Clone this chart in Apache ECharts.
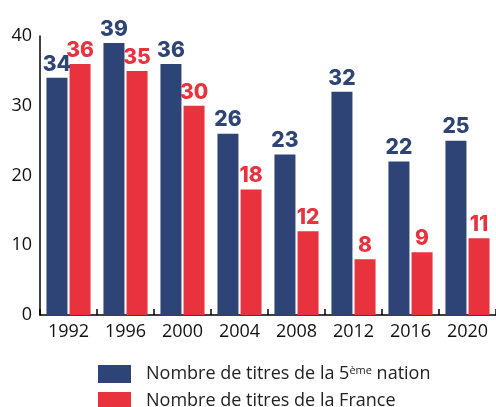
<!DOCTYPE html>
<html>
<head>
<meta charset="utf-8">
<script src="https://cdn.jsdelivr.net/npm/echarts@6/dist/echarts.min.js"></script>
<style>
  html, body { margin: 0; padding: 0; background: #fff; }
  #chart { width: 496px; height: 407px; }
</style>
</head>
<body>
<div id="chart"></div>
<script>
// data
const years = ['1992', '1996', '2000', '2004', '2008', '2012', '2016', '2020'];
const nation5 = [34, 39, 36, 26, 23, 32, 22, 25];
const france = [36, 35, 30, 18, 12, 8, 9, 11];
const yTicks = [0, 10, 20, 30, 40];
const seriesNames = ['Nombre de titres de la 5ème nation', 'Nombre de titres de la France'];

const blue = '#2f4476';
const red = '#e8333f';
const font = 'Open Sans';

const chart = echarts.init(document.getElementById('chart'));

const valueLabel = (color) => ({
  show: true,
  position: 'top',
  distance: 3,
  color: color,
  fontFamily: 'Inter',
  fontWeight: 800,
  fontSize: 21
});

// one legend per row, so the vertical list never wraps into a second column
const legendRow = (name, top) => ({
  data: [name],
  orient: 'horizontal',
  left: 98,
  top: top,
  padding: 0,
  itemWidth: 33,
  itemHeight: 18,
  icon: 'rect',
  textStyle: {
    fontFamily: font,
    fontSize: 18,
    color: '#222',
    padding: [0, 0, 0, 10],
    rich: {
      a: { fontFamily: font, fontSize: 18, color: '#222', lineHeight: 18 },
      sup: { fontFamily: font, fontSize: 11, color: '#222', lineHeight: 18, verticalAlign: 'top', padding: [0, 0, 6, 0] }
    }
  },
  formatter: function (n) {
    if (n.indexOf('5ème') >= 0) {
      return '{a|Nombre de titres de la 5}{sup|ème}{a| nation}';
    }
    return '{a|' + n + '}';
  }
});

chart.setOption({
  animation: false,
  grid: { left: 40, top: 36, width: 460, height: 279 },
  legend: [legendRow(seriesNames[0], 365), legendRow(seriesNames[1], 392)],
  xAxis: {
    type: 'category',
    data: years,
    axisLine: { lineStyle: { color: '#000', width: 1.5 } },
    axisTick: { show: true, inside: true, length: 6, lineStyle: { color: '#000', width: 1.5 } },
    axisLabel: { color: '#111', fontFamily: font, fontSize: 18, margin: 8 }
  },
  yAxis: {
    type: 'value',
    min: yTicks[0],
    max: yTicks[yTicks.length - 1],
    interval: 10,
    axisLine: { show: true, lineStyle: { color: '#000', width: 1.5 } },
    axisTick: { show: false },
    splitLine: { show: false },
    axisLabel: { color: '#111', fontFamily: font, fontSize: 18, margin: 8 }
  },
  series: [
    {
      name: seriesNames[0],
      type: 'bar',
      data: nation5,
      barWidth: 21,
      barGap: '10%',
      itemStyle: { color: blue },
      label: valueLabel(blue)
    },
    {
      name: seriesNames[1],
      type: 'bar',
      data: france,
      barWidth: 21,
      barGap: '10%',
      itemStyle: { color: red },
      label: valueLabel(red)
    }
  ]
});
</script>
</body>
</html>
